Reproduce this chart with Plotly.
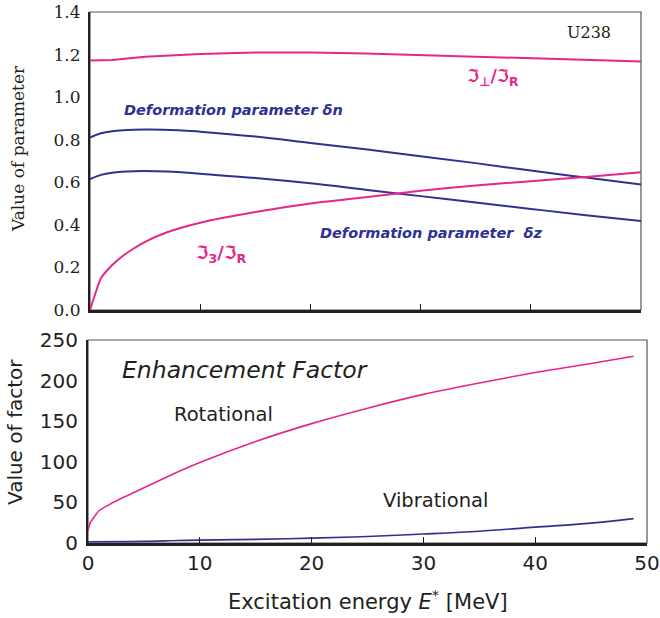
import plotly.graph_objects as go

# ---- Upper panel: deformation parameters and moment-of-inertia ratios (U238) ----
e_perp = [0, 2, 5, 8, 10, 15, 20, 25, 30, 35, 40, 45, 50]
ratio_perp = [1.172, 1.175, 1.19, 1.198, 1.203, 1.21, 1.21, 1.205, 1.198, 1.19, 1.182, 1.175, 1.168]

e_dn = [0, 1, 2, 3, 5, 8, 10, 15, 20, 25, 30, 35, 40, 45, 50]
delta_n = [0.81, 0.83, 0.84, 0.845, 0.848, 0.845, 0.838, 0.815, 0.785, 0.755, 0.722, 0.69, 0.655, 0.622, 0.59]

e_dz = [0, 1, 2, 4, 6, 8, 10, 15, 20, 25, 30, 35, 40, 45, 50]
delta_z = [0.615, 0.635, 0.645, 0.652, 0.652, 0.648, 0.64, 0.62, 0.595, 0.565, 0.535, 0.505, 0.475, 0.445, 0.418]

e_3 = [0, 0.5, 1, 2, 3, 4, 5, 7, 10, 15, 20, 25, 30, 35, 40, 45, 50]
ratio_3 = [0.0, 0.08, 0.15, 0.21, 0.255, 0.29, 0.32, 0.365, 0.41, 0.46, 0.5, 0.53, 0.56, 0.585, 0.605, 0.625, 0.647]

# ---- Lower panel: collective enhancement factors ----
e_rot = [0, 0.2, 0.6, 1, 2, 3, 5, 7, 10, 15, 20, 25, 30, 35, 40, 45, 48.8]
rotational = [15, 25, 33, 40, 48, 55, 68, 81, 99, 125, 147, 166, 183, 197, 210, 221, 230]

e_vib = [0, 5, 8, 10, 15, 20, 25, 30, 35, 40, 45, 48.8]
vibrational = [1.5, 2, 3, 3.5, 4.5, 6, 8, 11, 14.5, 19.5, 24.5, 30]

x_ticks = [0, 10, 20, 30, 40, 50]
y_ticks_top = [0.0, 0.2, 0.4, 0.6, 0.8, 1.0, 1.2, 1.4]
y_ticks_bottom = [0, 50, 100, 150, 200, 250]

PINK = "#E6268A"
BLUE = "#2E3192"
INK = "#231F20"

W, H = 660, 618


def px(x):
    return x / W


def py(y):
    return 1 - y / H


fig = go.Figure()

line_kw = dict(mode="lines", hoverinfo="skip", showlegend=False)
fig.add_trace(go.Scatter(x=e_perp, y=ratio_perp, line=dict(color=PINK, width=2), xaxis="x", yaxis="y", **line_kw))
fig.add_trace(go.Scatter(x=e_dn, y=delta_n, line=dict(color=BLUE, width=2, shape="spline"), xaxis="x", yaxis="y", **line_kw))
fig.add_trace(go.Scatter(x=e_dz, y=delta_z, line=dict(color=BLUE, width=2, shape="spline"), xaxis="x", yaxis="y", **line_kw))
fig.add_trace(go.Scatter(x=e_3, y=ratio_3, line=dict(color=PINK, width=2, shape="spline", smoothing=0.6), xaxis="x", yaxis="y", **line_kw))

fig.add_trace(go.Scatter(x=e_rot, y=rotational, line=dict(color=PINK, width=1.6, shape="spline", smoothing=0.5), xaxis="x2", yaxis="y2", **line_kw))
fig.add_trace(go.Scatter(x=e_vib, y=vibrational, line=dict(color=BLUE, width=1.6, shape="spline"), xaxis="x2", yaxis="y2", **line_kw))

top_x = [px(90), px(641)]
top_y = [py(310), py(12)]
bot_x = [px(88), px(647)]
bot_y = [py(543), py(340)]

serif = "DejaVu Serif"
sans = "DejaVu Sans"

fig.update_layout(
    width=W, height=H,
    margin=dict(l=0, r=0, t=0, b=0, autoexpand=False),
    paper_bgcolor="white", plot_bgcolor="white",
    xaxis=dict(domain=top_x, range=[0, 50], tickvals=x_ticks, showticklabels=False,
               ticks="inside", ticklen=6, tickcolor=INK, tickwidth=1, automargin=False,
               showline=True, linecolor=INK, linewidth=3, showgrid=False, zeroline=False,
               anchor="y"),
    yaxis=dict(domain=top_y, range=[0, 1.4], tickvals=y_ticks_top,
               ticktext=[f"{v:.1f}" for v in y_ticks_top], ticks="", automargin=False,
               tickfont=dict(family=serif, size=17, color=INK), ticklabelstandoff=4,
               showline=True, linecolor=INK, linewidth=2, showgrid=False, zeroline=False,
               anchor="x"),
    xaxis2=dict(domain=bot_x, range=[0, 50], tickvals=x_ticks, automargin=False,
                ticks="inside", ticklen=6, tickcolor=INK, tickwidth=1,
                tickfont=dict(family=sans, size=20, color=INK),
                showline=True, linecolor=INK, linewidth=3, showgrid=False, zeroline=False,
                anchor="y2"),
    yaxis2=dict(domain=bot_y, range=[0, 250], tickvals=y_ticks_bottom, ticks="", automargin=False,
                tickfont=dict(family=sans, size=20, color=INK), ticklabelstandoff=4,
                showline=True, linecolor=INK, linewidth=2, showgrid=False, zeroline=False,
                anchor="x2"),
)

# thin frame around both panels
fig.add_shape(type="rect", xref="x domain", yref="y domain", x0=0, x1=1, y0=0, y1=1,
              line=dict(color="#555555", width=1.2), layer="below")
fig.add_shape(type="rect", xref="x2 domain", yref="y2 domain", x0=0, x1=1, y0=0, y1=1,
              line=dict(color="#555555", width=1.2), layer="below")


def note(text, x, y, font, xanchor="left", angle=0):
    fig.add_annotation(text=text, x=px(x), y=py(y), xref="paper", yref="paper",
                       xanchor=xanchor, yanchor="middle", showarrow=False,
                       textangle=angle, font=font)


note("U238", 589, 33, dict(family=serif, size=16, color=INK), xanchor="center")
note("<b>ℑ<sub>⊥</sub>/ℑ<sub>R</sub></b>", 493, 77, dict(family="DejaVu Sans", size=17.5, color=PINK), xanchor="center")
note("<b>ℑ<sub>3</sub>/ℑ<sub>R</sub></b>", 221, 254, dict(family="DejaVu Sans", size=18, color=PINK), xanchor="center")
note("<b><i>Deformation parameter δn</i></b>", 122, 110, dict(family="DejaVu Sans", size=14.5, color=BLUE))
note("<b><i>Deformation parameter  δz</i></b>", 318, 233, dict(family="DejaVu Sans", size=14.5, color=BLUE))

note("<i>Enhancement Factor</i>", 120, 370, dict(family=sans, size=23.5, color=INK))
note("Rotational", 172, 414, dict(family=sans, size=19.5, color=INK))
note("Vibrational", 381, 500, dict(family=sans, size=19.5, color=INK))

note("Excitation energy <i>E</i><sup>*</sup> [MeV]", 368, 600, dict(family=sans, size=21, color=INK), xanchor="center")
note("Value of parameter", 18, 149, dict(family=serif, size=17, color=INK), xanchor="center", angle=-90)
note("Value of factor", 15, 432, dict(family=sans, size=20, color=INK), xanchor="center", angle=-90)

fig.write_html("out.html")
